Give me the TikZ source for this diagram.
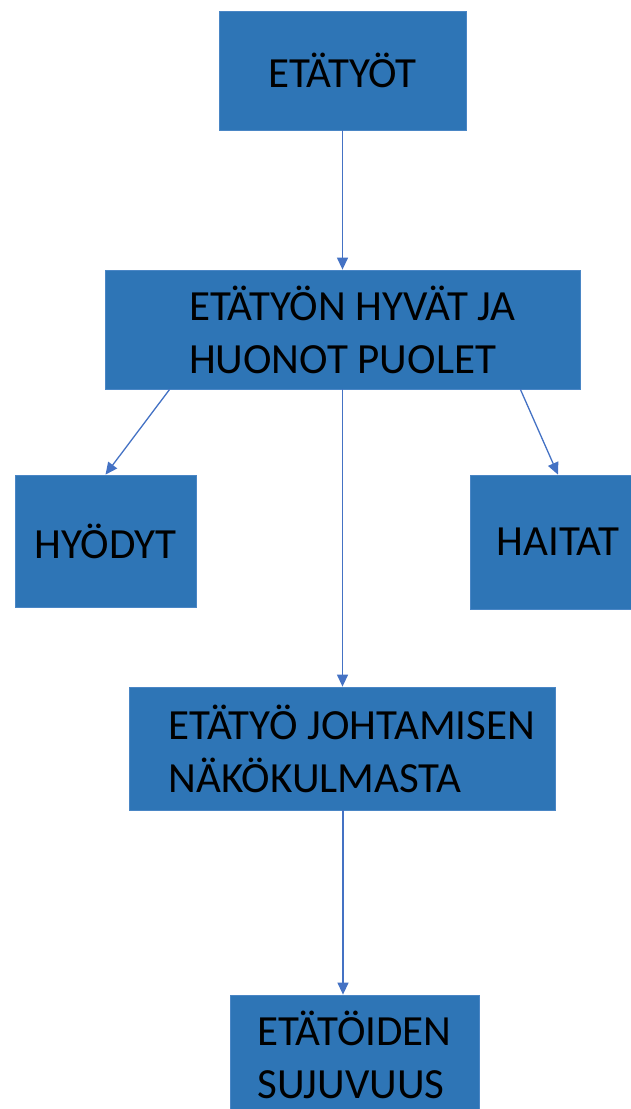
\documentclass[tikz,border=0pt]{standalone}
\usepackage{fontspec}
\setmainfont{Carlito}
\usetikzlibrary{arrows.meta,positioning}
\definecolor{boxblue}{HTML}{2E75B6}
\definecolor{edgeblue}{HTML}{4A86C5}
\definecolor{linkblue}{HTML}{4472C4}

\begin{document}
\begin{tikzpicture}[x=1pt, y=-1pt,
  link/.style={draw=linkblue, line width=1.3pt, -{Triangle[length=12pt,width=11pt]}}]
\tikzset{box/.style={draw=edgeblue, fill=boxblue, line width=0.8pt, align=left,
  inner sep=0pt, font=\fontsize{43}{53}\selectfont}}
\useasboundingbox (0,0) rectangle (631,1109);
\clip (0,0) rectangle (631,1109);
\node[box, minimum width=247pt, minimum height=119pt] (etatyot) at (342.5,70.5) {ETÄTYÖT};
\node[box, minimum width=475pt, minimum height=119pt] (puolet) at (342.5,329.5) {\hspace*{20pt}ETÄTYÖN HYVÄT JA\\\hspace*{20pt}HUONOT PUOLET};
\node[box, minimum width=181pt, minimum height=132pt] (hyodyt) at (105.5,541) {HYÖDYT};
\node[box, minimum width=176pt, minimum height=134pt] (haitat) at (558,542) {HAITAT};
\node[box, minimum width=426pt, minimum height=123pt] (johtaminen) at (342,748.5) {\hspace*{20pt}ETÄTYÖ JOHTAMISEN\\\hspace*{20pt}NÄKÖKULMASTA};
\node[box, minimum width=249pt, minimum height=120pt] (sujuvuus) at (354.5,1055) {ETÄTÖIDEN\\SUJUVUUS};
% yhteydet
\draw[link] (etatyot) -- (puolet);
\draw[link] ([xshift=65pt]puolet.south west) -- (hyodyt.north);
\draw[link] ([xshift=-60pt]puolet.south east) -- (haitat.north);
\draw[link] (puolet.south) -- (puolet.south |- johtaminen.north);
\draw[link] ([xshift=1pt]johtaminen.south) -- ([xshift=1pt]johtaminen.south |- sujuvuus.north);
\end{tikzpicture}
\end{document}
